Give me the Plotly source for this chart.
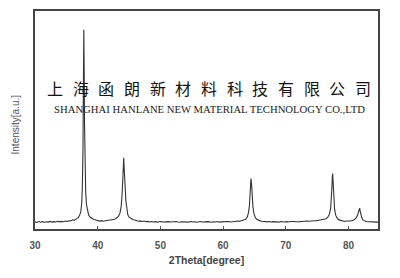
import plotly.graph_objects as go

theta = [
    30.0, 30.3, 30.6, 30.9, 31.2, 31.5, 31.8, 32.1, 32.4, 32.7, 33.0, 33.3, 33.6, 33.9,
    34.2, 34.5, 34.8, 35.1, 35.4, 35.7, 36.0, 36.3, 36.6, 36.9, 37.1, 37.3, 37.45, 37.55,
    37.65, 37.72, 37.78, 37.84, 37.9, 37.98, 38.08, 38.2, 38.35, 38.55, 38.8, 39.1, 39.4,
    39.7, 40.0, 40.3, 40.6, 40.9, 41.2, 41.5, 41.8, 42.1, 42.4, 42.7, 43.0, 43.3, 43.55,
    43.75, 43.9, 44.0, 44.08, 44.15, 44.2, 44.25, 44.32, 44.4, 44.5, 44.62, 44.8, 45.0,
    45.3, 45.6, 45.9, 46.2, 46.5, 46.8, 47.1, 47.4, 47.7, 48.0, 48.3, 48.6, 48.9, 49.2,
    49.5, 49.8, 50.1, 50.4, 50.7, 51.0, 51.3, 51.6, 51.9, 52.2, 52.5, 52.8, 53.1, 53.4,
    53.7, 54.0, 54.3, 54.6, 54.9, 55.2, 55.5, 55.8, 56.1, 56.4, 56.7, 57.0, 57.3, 57.6,
    57.9, 58.2, 58.5, 58.8, 59.1, 59.4, 59.7, 60.0, 60.3, 60.6, 60.9, 61.2, 61.5, 61.8,
    62.1, 62.4, 62.7, 63.0, 63.3, 63.6, 63.85, 64.05, 64.2, 64.3, 64.38, 64.44, 64.5,
    64.56, 64.64, 64.75, 64.9, 65.1, 65.35, 65.6, 65.9, 66.2, 66.5, 66.8, 67.1, 67.4,
    67.7, 68.0, 68.3, 68.6, 68.9, 69.2, 69.5, 69.8, 70.1, 70.4, 70.7, 71.0, 71.3, 71.6,
    71.9, 72.2, 72.5, 72.8, 73.1, 73.4, 73.7, 74.0, 74.3, 74.6, 74.9, 75.2, 75.5, 75.8,
    76.1, 76.4, 76.7, 76.95, 77.15, 77.28, 77.36, 77.42, 77.47, 77.52, 77.58, 77.66,
    77.78, 77.95, 78.2, 78.5, 78.8, 79.1, 79.4, 79.7, 80.0, 80.3, 80.6, 80.9, 81.2,
    81.45, 81.6, 81.7, 81.78, 81.86, 81.96, 82.1, 82.3, 82.55, 82.8, 83.1, 83.4, 83.7,
    84.0, 84.3, 84.6, 84.9, 85.0,
]
intensity = [
    72, 66, 75, 69, 74, 68, 73, 70, 77, 70, 74, 71, 78, 72,
    77, 74, 80, 76, 83, 81, 92, 88, 102, 115, 135, 175, 260, 420,
    800, 1350, 2010, 1600, 1050, 620, 380, 250, 180, 140, 118, 104, 96,
    90, 86, 80, 84, 78, 83, 86, 90, 87, 95, 99, 110, 128, 160,
    230, 360, 520, 660, 720, 640, 600, 540, 400, 280, 195, 145, 120,
    104, 96, 90, 84, 79, 82, 76, 80, 73, 77, 71, 75, 70, 74,
    69, 73, 76, 70, 72, 68, 74, 70, 73, 69, 75, 71, 68, 73,
    70, 74, 69, 72, 76, 70, 73, 68, 72, 75, 70, 73, 69, 74,
    71, 68, 73, 70, 75, 69, 72, 74, 70, 73, 76, 71, 74, 78,
    75, 80, 78, 84, 88, 98, 120, 165, 240, 340, 440, 510, 480,
    430, 330, 230, 160, 120, 98, 88, 82, 78, 74, 77, 72, 75,
    70, 74, 71, 73, 69, 75, 72, 70, 74, 71, 76, 72, 75, 73,
    77, 74, 76, 79, 75, 80, 78, 82, 80, 84, 83, 88, 86, 92,
    96, 104, 120, 150, 210, 310, 430, 530, 560, 500, 420, 300,
    200, 140, 108, 92, 84, 80, 76, 80, 78, 82, 86, 92, 110,
    140, 175, 205, 210, 180, 145, 115, 92, 82, 76, 73, 75, 70,
    72, 69, 71, 68, 70,
]

x_ticks = [30, 40, 50, 60, 70, 80]
cn_chars = list("上海函朗新材料科技有限公司")
en_text = "SHANGHAI HANLANE NEW MATERIAL TECHNOLOGY CO.,LTD"

fig = go.Figure()
fig.add_trace(go.Scatter(
    x=theta, y=intensity, mode="lines",
    line=dict(color="#333333", width=1.1), hoverinfo="skip", showlegend=False,
))

axis_line = dict(showline=True, linecolor="#444", linewidth=1.5, mirror=True,
                 showgrid=False, zeroline=False)

fig.update_layout(
    width=400, height=278,
    margin=dict(l=35, r=22, t=9, b=49),
    paper_bgcolor="white", plot_bgcolor="white",
    xaxis=dict(range=[30, 84.7], tickvals=x_ticks, ticks="inside", ticklen=3,
               tickcolor="#555", tickwidth=1, ticklabelstandoff=6,
               tickfont=dict(family="Liberation Sans", size=10, color="#555", weight="bold"),
               title=dict(text="2Theta[degree]", standoff=7,
                          font=dict(family="Liberation Sans", size=10.5, color="#444", weight="bold")),
               **axis_line),
    yaxis=dict(range=[0, 2200], showticklabels=False, ticks="", **axis_line),
)

# Y-axis title
fig.add_annotation(text="Intensity[a.u.]", textangle=-90, xref="paper", yref="paper",
                   x=-0.058, y=0.48, showarrow=False, xanchor="center", yanchor="middle",
                   font=dict(family="Liberation Sans", size=10, color="#555"))

# Watermark: Chinese company name, evenly spaced characters
n = len(cn_chars)
x0_px, x1_px = 55, 363
plot_w = 400 - 35 - 22
for i, ch in enumerate(cn_chars):
    px = x0_px + (x1_px - x0_px) * i / (n - 1)
    fig.add_annotation(text=ch, xref="paper", yref="paper",
                       x=(px - 35) / plot_w, y=(229 - 87) / 220,
                       showarrow=False, xanchor="center", yanchor="middle",
                       font=dict(family="Noto Sans CJK SC", size=16, color="#111"))

fig.add_annotation(text=en_text, xref="paper", yref="paper",
                   x=(209 - 35) / plot_w, y=(229 - 108) / 220,
                   showarrow=False, xanchor="center", yanchor="middle",
                   font=dict(family="Liberation Serif", size=10.7, color="#222"))

fig.write_html("out.html")
